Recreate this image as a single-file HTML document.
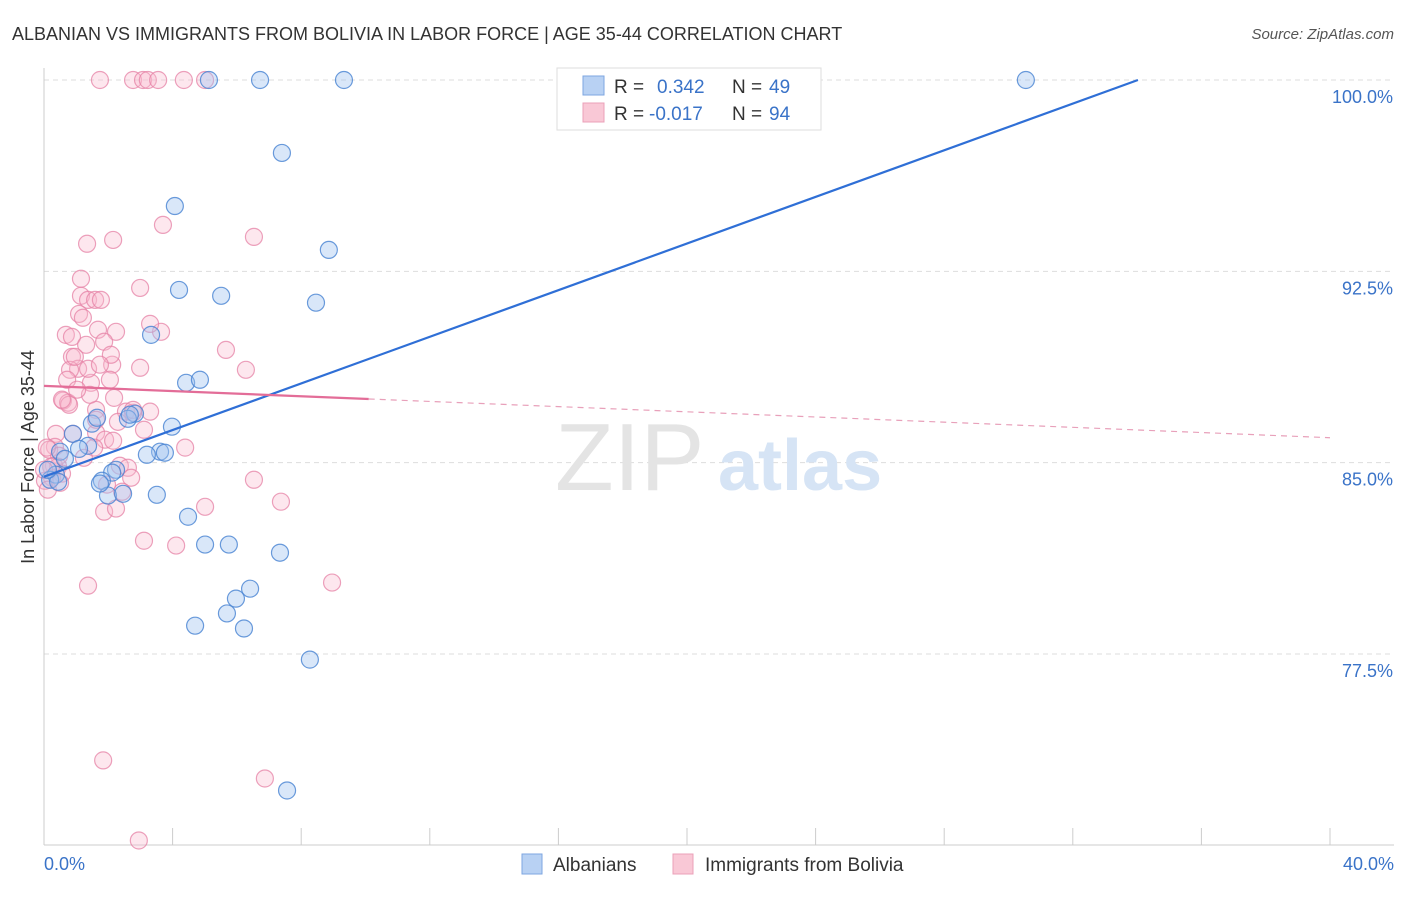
<!DOCTYPE html>
<html><head><meta charset="utf-8"><style>
body{margin:0;background:#fff;font-family:"Liberation Sans",sans-serif}
svg text{font-family:"Liberation Sans",sans-serif}
</style></head><body>
<svg width="1406" height="892" viewBox="0 0 1406 892">
<text x="12" y="40" font-size="18" fill="#333">ALBANIAN VS IMMIGRANTS FROM BOLIVIA IN LABOR FORCE | AGE 35-44 CORRELATION CHART</text>
<text x="1394" y="39" font-size="15" fill="#555" text-anchor="end" font-style="italic">Source: ZipAtlas.com</text>
<g id="grid"></g>
<g id="axes"></g>
<text x="555" y="490" font-size="96" fill="#e4e4e4" font-family="Liberation Serif">ZIP</text>
<text x="718" y="490" font-size="72" fill="#d6e4f5" font-weight="bold">atlas</text>
<g id="pink"></g>
<g id="blue"></g>
<g id="lines"></g>
<text transform="translate(34,457) rotate(-90)" font-size="18" fill="#333" text-anchor="middle">In Labor Force | Age 35-44</text>
<text x="44" y="870" font-size="18" fill="#3a73c8">0.0%</text>
<text x="1394" y="870" font-size="18" fill="#3a73c8" text-anchor="end">40.0%</text>
<g>
<rect x="557" y="68" width="264" height="62" fill="#fff" stroke="#ddd"/>
<rect x="583" y="76" width="21" height="19" fill="#b8d1f3" stroke="#7ea6e0"/>
<rect x="583" y="103" width="21" height="19" fill="#f9c8d6" stroke="#eba0b8"/>
<text x="614" y="93" font-size="19" fill="#333">R =</text><text x="657" y="93" font-size="19" fill="#3a73c8">0.342</text>
<text x="732" y="93" font-size="19" fill="#333">N =</text><text x="769" y="93" font-size="19" fill="#3a73c8">49</text>
<text x="614" y="120" font-size="19" fill="#333">R =</text><text x="649" y="120" font-size="19" fill="#3a73c8">-0.017</text>
<text x="732" y="120" font-size="19" fill="#333">N =</text><text x="769" y="120" font-size="19" fill="#3a73c8">94</text>
</g>
<g>
<rect x="522" y="854" width="20" height="20" fill="#b8d1f3" stroke="#7ea6e0"/>
<text x="553" y="871" font-size="19" fill="#333">Albanians</text>
<rect x="673" y="854" width="20" height="20" fill="#f9c8d6" stroke="#eba0b8"/>
<text x="705" y="871" font-size="19" fill="#333">Immigrants from Bolivia</text>
</g>
</svg>
<script>
const yTicks=[100,92.5,85,77.5];
const yTickLabels=["100.0%","92.5%","85.0%","77.5%"];
const xTicks=[0,4,8,12,16,20,24,28,32,36,40];
const blueX=[5.13,6.72,9.33,30.54,7.40,4.07,8.86,4.20,5.51,8.46,3.33,4.42,4.85,3.98,2.83,2.61,1.49,1.65,0.90,1.37,1.09,0.50,0.65,0.37,3.61,3.20,3.76,2.24,2.12,1.80,1.99,2.46,3.51,4.48,5.01,5.75,7.34,6.41,5.97,5.69,4.70,6.22,8.27,7.56,0.19,0.44,0.12,1.74,2.67];
const blueY=[100,100,100,100,97.14,95.06,93.34,91.77,91.54,91.27,90.01,88.13,88.25,86.41,86.92,86.72,86.53,86.76,86.13,85.66,85.54,85.43,85.15,84.53,85.43,85.31,85.39,84.72,84.61,84.29,83.71,83.78,83.74,82.88,81.79,81.79,81.47,80.06,79.67,79.09,78.61,78.50,77.28,72.15,84.33,84.25,84.72,84.18,86.88];
const pinkX=[1.74,2.77,3.08,3.23,3.55,4.35,5.01,3.70,2.15,6.53,1.34,1.15,1.15,1.37,1.59,1.77,2.99,1.09,1.21,0.68,0.87,1.68,2.24,3.64,3.30,5.66,0.87,1.31,1.87,1.06,0.81,0.72,1.46,0.96,2.12,2.99,6.28,2.08,1.37,0.59,0.75,1.62,2.18,2.55,2.77,0.78,3.11,1.62,0.90,0.37,0.34,0.16,0.47,1.90,2.15,4.39,1.56,0.31,0.44,0.56,0.25,0.03,0.12,0.50,2.36,2.61,2.71,2.43,1.96,5.01,1.87,2.24,6.53,7.37,3.11,4.11,1.37,8.96,1.84,6.87,2.95,0.09,0.22,0,1.43,0.56,3.30,2.77,1.74,1.03,2.30,2.05,1.62,1.24];
const pinkY=[100,100,100,100,100,100,100,94.32,93.73,93.85,93.58,92.21,91.54,91.38,91.38,91.38,91.85,90.83,90.68,90.01,89.93,90.21,90.13,90.13,90.44,89.42,89.15,89.62,89.74,88.68,88.64,88.25,88.13,89.15,88.84,88.72,88.64,89.23,88.68,87.43,87.35,87.07,87.54,87.00,86.96,87.27,86.29,86.17,86.13,86.13,85.62,85.51,85.27,85.90,85.86,85.59,85.59,84.88,84.84,84.57,84.41,84.29,83.94,84.21,84.88,84.80,84.41,83.86,84.14,83.27,83.08,83.20,84.33,83.47,81.94,81.75,80.18,80.30,73.33,72.62,70.19,85.59,84.84,84.72,87.66,87.47,87.00,87.07,88.84,87.86,86.60,88.25,86.68,85.19];
const blueTrend=[84.45,0.457];
const pinkTrend=[88.01,-0.0508];
const pinkSolidEnd=10.1;

const NS="http://www.w3.org/2000/svg";
const X0=44,X1=1330,YT=80,YB=654;
function sx(v){return X0+(v/40)*(X1-X0);}
function sy(v){return YT+(100-v)/22.5*(YB-YT);}
function mk(t,a,p){const e=document.createElementNS(NS,t);for(const k in a)e.setAttribute(k,a[k]);p.appendChild(e);return e;}
const grid=document.getElementById('grid');
yTicks.forEach((t,i)=>{
  const l=mk('line',{x1:X0,x2:1394,y1:sy(t),y2:sy(t),stroke:'#ddd','stroke-dasharray':'5,4'},grid);
  
  
  const tx=mk('text',{x:1393,y:sy(t)+23,'font-size':18,fill:'#3a73c8','text-anchor':'end'},grid);
  tx.textContent=yTickLabels[i];
  
  
});
const axes=document.getElementById('axes');
mk('line',{x1:X0,x2:X0,y1:68,y2:845,stroke:'#ccc'},axes);
mk('line',{x1:X0,x2:1394,y1:845,y2:845,stroke:'#ccc'},axes);
xTicks.forEach(t=>{
  const l=mk('line',{x1:sx(t),x2:sx(t),y1:828,y2:845,stroke:'#ccc'},axes);
  
  
});
function pts(xs,ys,g,fill,stroke,name){
  xs.forEach((x,i)=>{
    const c=mk('circle',{cx:sx(x),cy:sy(ys[i]),r:8.5,fill:fill,stroke:stroke,'stroke-width':1.2},g);
    
    
  });
}
pts(pinkX,pinkY,document.getElementById('pink'),'rgba(248,185,205,0.35)','rgba(230,130,165,0.75)','bolivia-point');
pts(blueX,blueY,document.getElementById('blue'),'rgba(160,195,240,0.4)','rgba(70,130,210,0.8)','albanian-point');
const lines=document.getElementById('lines');
const bxEnd=(100-blueTrend[0])/blueTrend[1];
const bl=mk('line',{x1:sx(0),y1:sy(blueTrend[0]),x2:sx(bxEnd),y2:sy(100),stroke:'#2f6fd6','stroke-width':2.2},lines);


const pf=x=>pinkTrend[0]+pinkTrend[1]*x;
const ps=mk('line',{x1:sx(0),y1:sy(pf(0)),x2:sx(pinkSolidEnd),y2:sy(pf(pinkSolidEnd)),stroke:'#e36d98','stroke-width':2.2},lines);


const pd=mk('line',{x1:sx(pinkSolidEnd),y1:sy(pf(pinkSolidEnd)),x2:sx(40),y2:sy(pf(40)),stroke:'#e8a0ba','stroke-width':1.2,'stroke-dasharray':'6,5'},lines);


</script>
</body></html>
